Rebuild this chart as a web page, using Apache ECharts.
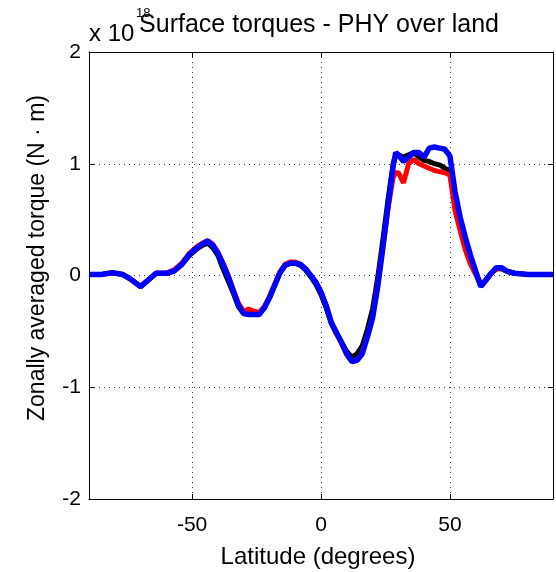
<!DOCTYPE html>
<html>
<head>
<meta charset="utf-8">
<script src="https://cdn.jsdelivr.net/npm/echarts@6/dist/echarts.min.js"></script>
<style>
  html, body { margin: 0; padding: 0; background: #fff; }
  #chart { width: 556px; height: 572px; }
</style>
</head>
<body>
<div id="chart"></div>
<script>
// latitude (degrees)
var lat = [-90, -85, -81, -77, -74, -70, -67, -64, -60, -57, -54, -51, -48, -46, -44, -42, -40, -38, -36, -34,
  -32, -30, -28, -26, -24, -22, -20, -18, -16, -14, -12, -10, -8, -6, -4, -2, 0, 2, 4, 6, 8, 10, 12, 14, 16,
  18, 20, 22, 24, 26, 28, 29, 30, 32, 34, 36, 38, 40, 42, 44, 46, 48, 50, 52, 54, 56, 58, 60, 62, 64, 66, 68,
  70, 72, 75, 80, 85, 90];

// torque x 1e18 N m
var blackVals = [0.01, 0.01, 0.025, 0.01, -0.03, -0.10, -0.04, 0.02, 0.02, 0.04, 0.10, 0.18, 0.24, 0.27, 0.29,
  0.25, 0.18, 0.06, -0.05, -0.16, -0.28, -0.34, -0.33, -0.34, -0.34, -0.29, -0.20, -0.09, 0.02, 0.09, 0.11,
  0.11, 0.09, 0.05, -0.01, -0.08, -0.17, -0.29, -0.43, -0.52, -0.60, -0.68, -0.73, -0.70, -0.63, -0.48, -0.30,
  -0.02, 0.32, 0.68, 1.00, 1.08, 1.08, 1.06, 1.08, 1.10, 1.06, 1.03, 1.02, 1.00, 0.99, 0.96, 0.94, 0.65, 0.47,
  0.30, 0.16, 0.03, -0.09, -0.04, 0.02, 0.06, 0.06, 0.04, 0.02, 0.01, 0.01, 0.01];

var redVals = [0.01, 0.01, 0.025, 0.01, -0.03, -0.10, -0.04, 0.02, 0.02, 0.05, 0.11, 0.20, 0.26, 0.29, 0.31,
  0.28, 0.21, 0.11, 0.00, -0.13, -0.25, -0.32, -0.30, -0.32, -0.33, -0.28, -0.19, -0.08, 0.03, 0.10, 0.12,
  0.12, 0.10, 0.06, 0.00, -0.06, -0.15, -0.27, -0.42, -0.52, -0.61, -0.71, -0.77, -0.76, -0.69, -0.54, -0.37,
  -0.08, 0.26, 0.60, 0.88, 0.92, 0.92, 0.83, 1.00, 1.04, 1.00, 0.98, 0.96, 0.94, 0.93, 0.92, 0.90, 0.58, 0.40,
  0.23, 0.10, 0.01, -0.09, -0.04, 0.02, 0.06, 0.06, 0.04, 0.02, 0.01, 0.01, 0.01];

var blueVals = [0.01, 0.01, 0.025, 0.01, -0.03, -0.10, -0.04, 0.02, 0.02, 0.04, 0.10, 0.19, 0.25, 0.28, 0.31,
  0.27, 0.20, 0.10, -0.01, -0.14, -0.27, -0.34, -0.35, -0.35, -0.35, -0.29, -0.20, -0.09, 0.02, 0.09, 0.11,
  0.11, 0.10, 0.06, 0.00, -0.06, -0.15, -0.27, -0.42, -0.51, -0.60, -0.70, -0.77, -0.76, -0.70, -0.55, -0.38,
  -0.10, 0.25, 0.62, 0.98, 1.10, 1.08, 1.02, 1.06, 1.10, 1.10, 1.06, 1.14, 1.15, 1.14, 1.13, 1.07, 0.75, 0.52,
  0.34, 0.18, 0.04, -0.10, -0.04, 0.02, 0.07, 0.07, 0.04, 0.02, 0.01, 0.01, 0.01];

var xTicks = [-50, 0, 50];

function pairs(vals) {
  return lat.map(function (x, i) { return [x, vals[i]]; });
}

var myChart = echarts.init(document.getElementById('chart'));
var font = 'Liberation Sans';
var gridLine = { show: true, lineStyle: { color: '#333', type: [1, 4], width: 1 } };
var tickIn = { show: true, inside: true, length: 5, lineStyle: { color: '#000' } };

option = {
  animation: false,
  backgroundColor: '#fff',
  grid: { left: 89, right: 3, top: 52, bottom: 73, containLabel: false },
  title: {
    text: 'Surface torques - PHY over land',
    left: 314, top: 8, textAlign: 'center',
    textStyle: { fontFamily: font, fontSize: 25, fontWeight: 'normal', color: '#000' }
  },
  graphic: [
    { type: 'text', left: 89, top: 22, style: { text: 'x 10', font: '24px "Liberation Sans"', fill: '#000' } },
    { type: 'text', left: 136, top: 7, style: { text: '18', font: '13px "Liberation Sans"', fill: '#000' } },
    {
      type: 'text', x: 38, y: 258, rotation: Math.PI / 2,
      style: { text: 'Zonally averaged torque (N · m)', font: '23px "Liberation Sans"', fill: '#000', align: 'center', verticalAlign: 'middle' }
    },
    {
      type: 'text', x: 318, y: 557,
      style: { text: 'Latitude (degrees)', font: '24px "Liberation Sans"', fill: '#000', align: 'center', verticalAlign: 'middle' }
    }
  ],
  xAxis: [
    {
      type: 'value', min: -90, max: 90, position: 'bottom',
      customValues: xTicks,
      axisLine: { show: true, onZero: false, lineStyle: { color: '#000' } },
      axisTick: Object.assign({ customValues: xTicks }, tickIn),
      axisLabel: { customValues: xTicks, margin: 16, fontFamily: font, fontSize: 21, color: '#000' },
      splitLine: gridLine
    },
    {
      type: 'value', min: -90, max: 90, position: 'top',
      axisLine: { show: true, onZero: false, lineStyle: { color: '#000' } },
      axisTick: Object.assign({ customValues: xTicks }, tickIn),
      axisLabel: { show: false },
      splitLine: { show: false }
    }
  ],
  yAxis: [
    {
      type: 'value', min: -2, max: 2, interval: 1, position: 'left',
      axisLine: { show: true, onZero: false, lineStyle: { color: '#000' } },
      axisTick: tickIn,
      axisLabel: { margin: 8, fontFamily: font, fontSize: 21, color: '#000' },
      splitLine: gridLine
    },
    {
      type: 'value', min: -2, max: 2, interval: 1, position: 'right',
      axisLine: { show: true, onZero: false, lineStyle: { color: '#000' } },
      axisTick: tickIn,
      axisLabel: { show: false },
      splitLine: { show: false }
    }
  ],
  series: [
    { type: 'line', data: pairs(blackVals), showSymbol: false, lineStyle: { color: '#000', width: 5 }, z: 2 },
    { type: 'line', data: pairs(redVals), showSymbol: false, lineStyle: { color: '#ff0000', width: 5 }, z: 3 },
    { type: 'line', data: pairs(blueVals), showSymbol: false, lineStyle: { color: '#0000ff', width: 5.5 }, z: 4 }
  ]
};
myChart.setOption(option);
</script>
</body>
</html>
